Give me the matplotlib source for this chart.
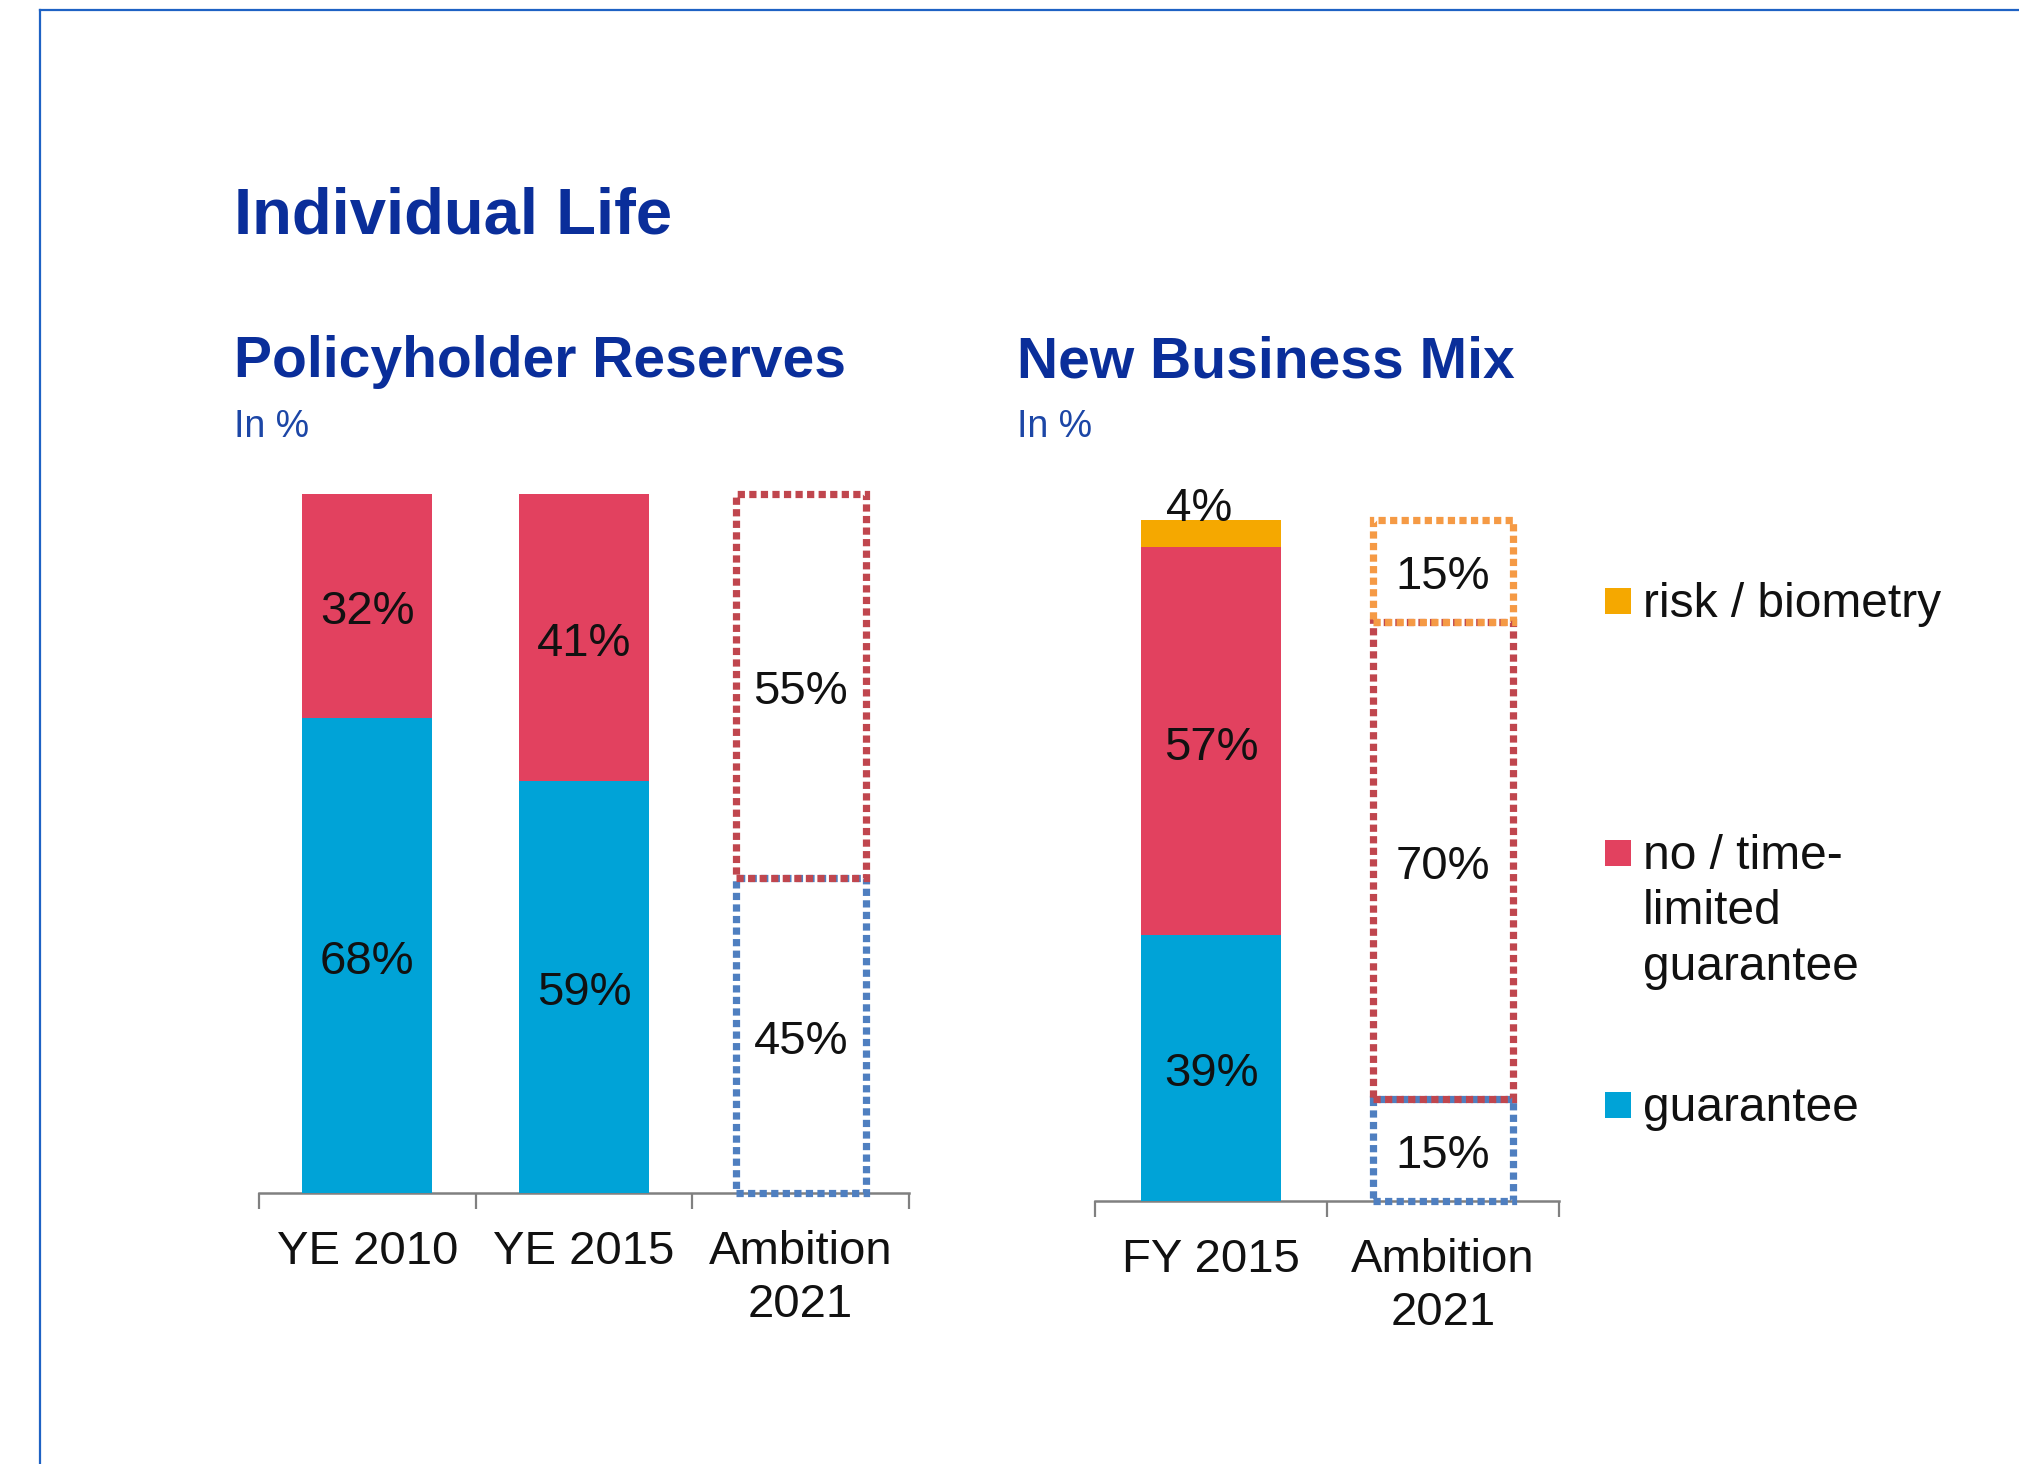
import numpy as np
import matplotlib.pyplot as plt
from matplotlib.patches import Rectangle
from matplotlib.lines import Line2D

plt.rcParams["font.family"] = ["Liberation Sans", "DejaVu Sans"]

# Policyholder reserves, in %
reserve_periods = ["YE 2010", "YE 2015", "Ambition\n2021"]
reserve_guarantee = [68, 59, 45]
reserve_no_guarantee = [32, 41, 55]
reserve_is_target = [False, False, True]

# New business mix, in %
mix_periods = ["FY 2015", "Ambition\n2021"]
mix_guarantee = [39, 15]
mix_no_guarantee = [57, 70]
mix_risk = [4, 15]
mix_is_target = [False, True]

legend_labels = ["risk / biometry", "no / time-\nlimited\nguarantee", "guarantee"]

BLUE, RED, ORANGE = "#00A3D7", "#E2415F", "#F5A800"
BLUE_DOT, RED_DOT, ORANGE_DOT = "#4F7FC0", "#C0464E", "#F59A45"
NAVY = "#0A2E9A"
LIGHT_NAVY = "#1C46A6"
AXIS_GREY = "#808080"

W, H = 2019, 1464
fig = plt.figure(figsize=(W / 100, H / 100), dpi=100)


def px_axes(x0, x1, y_top, y_base):
    return fig.add_axes([x0 / W, 1 - y_base / H, (x1 - x0) / W, (y_base - y_top) / H])


def stacked(ax, periods, series, fills, dots, is_target):
    n = len(periods)
    x = np.arange(n)
    bottom = np.zeros(n)
    for vals, fc, dc in zip(series, fills, dots):
        for i in x:
            v = vals[i]
            if is_target[i]:
                ax.bar(i, v, 0.6, bottom=bottom[i], fill=False, edgecolor=dc,
                       linewidth=5.2, linestyle=(0, (1.0, 0.6)), clip_on=False, zorder=3)
            else:
                ax.bar(i, v, 0.6, bottom=bottom[i], color=fc, linewidth=0, zorder=3)
            if v < 8 and not is_target[i]:
                # too thin for the label, put it on top of the stack
                ax.text(i - 0.05, bottom[i] + v - 0.2, f"{v}%", ha="center", va="baseline",
                        fontsize=33, color="#111111", zorder=4, clip_on=False)
            else:
                ax.annotate(f"{v}%", (i, bottom[i] + v / 2), xytext=(0, -4.5),
                            textcoords="offset points", ha="center", va="center",
                            fontsize=34, color="#111111", zorder=4)
        bottom += np.array(vals)

    ax.set_xlim(-0.5, n - 0.5)
    ax.set_ylim(0, 100)
    for side in ["left", "right", "top"]:
        ax.spines[side].set_visible(False)
    ax.spines["bottom"].set_color(AXIS_GREY)
    ax.spines["bottom"].set_linewidth(1.8)
    ax.set_yticks([])
    ax.set_xticks(np.arange(n + 1) - 0.5)
    ax.set_xticklabels([])
    ax.tick_params(axis="x", which="major", length=11.5, width=1.6, color=AXIS_GREY, direction="out")
    ax.set_xticks(x, minor=True)
    ax.set_xticklabels(periods, minor=True, fontsize=34, color="#111111", linespacing=1.25)
    ax.tick_params(axis="x", which="minor", length=0, pad=27)
    ax.patch.set_visible(False)


ax1 = px_axes(259, 909, 494, 1193)
stacked(ax1, reserve_periods, [reserve_guarantee, reserve_no_guarantee],
        [BLUE, RED], [BLUE_DOT, RED_DOT], reserve_is_target)

ax2 = px_axes(1095, 1559, 520, 1201)
stacked(ax2, mix_periods, [mix_guarantee, mix_no_guarantee, mix_risk],
        [BLUE, RED, ORANGE], [BLUE_DOT, RED_DOT, ORANGE_DOT], mix_is_target)

# headings
fig.text(234 / W, 1 - 234 / H, "Individual Life", fontsize=47, fontweight="bold",
         color=NAVY, va="baseline")
fig.text(234 / W, 1 - 377 / H, "Policyholder Reserves", fontsize=41, fontweight="bold",
         color=NAVY, va="baseline")
fig.text(1017 / W, 1 - 377 / H, "New Business Mix", fontsize=41, fontweight="bold",
         color=NAVY, va="baseline")
fig.text(234 / W, 1 - 437 / H, "In %", fontsize=27, color=LIGHT_NAVY, va="baseline")
fig.text(1017 / W, 1 - 437 / H, "In %", fontsize=27, color=LIGHT_NAVY, va="baseline")

# legend, drawn by hand so the squares sit on the first text line
legend_colors = [ORANGE, RED, BLUE]
legend_tops = [588, 840, 1092]
for label, color, top in zip(legend_labels, legend_colors, legend_tops):
    fig.add_artist(Rectangle((1605 / W, 1 - (top + 26) / H), 26 / W, 26 / H,
                             transform=fig.transFigure, color=color, lw=0))
    fig.text(1643 / W, 1 - (top - 6) / H, label, fontsize=34.5, color="#111111",
             va="top", linespacing=1.3)

# page frame
frame = "#1E62C4"
fig.add_artist(Line2D([40 / W, 40 / W], [0, 1 - 10 / H], transform=fig.transFigure, color=frame, lw=1.6))
fig.add_artist(Line2D([40 / W, 1], [1 - 10 / H, 1 - 10 / H], transform=fig.transFigure, color=frame, lw=1.6))

fig.savefig("out.png", dpi=100)
